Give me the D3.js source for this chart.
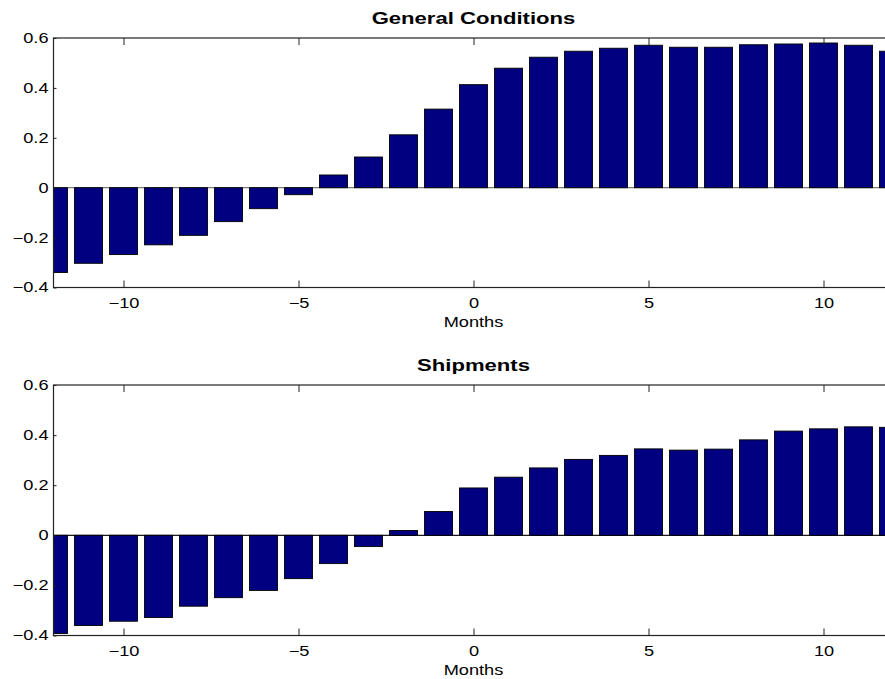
<!DOCTYPE html>
<html>
<head>
<meta charset="utf-8">
<script src="https://cdn.jsdelivr.net/npm/d3@7"></script>
<style>
  body { margin: 0; background: #fff; }
  svg { display: block; font-family: "Liberation Sans", Arial, Helvetica, sans-serif; }
</style>
</head>
<body>
<svg id="chart" width="885" height="679"></svg>
<script>
// ---- data ----
const months = [-12,-11,-10,-9,-8,-7,-6,-5,-4,-3,-2,-1,0,1,2,3,4,5,6,7,8,9,10,11,12];
const generalConditions = [-0.340,-0.303,-0.268,-0.229,-0.191,-0.136,-0.084,-0.028,0.051,0.123,0.212,0.315,
  0.413,0.479,0.523,0.547,0.559,0.571,0.563,0.563,0.573,0.576,0.580,0.571,0.547];
const shipments = [-0.392,-0.360,-0.343,-0.328,-0.283,-0.249,-0.220,-0.173,-0.113,-0.045,0.019,0.095,
  0.189,0.232,0.269,0.303,0.319,0.345,0.340,0.344,0.381,0.416,0.425,0.433,0.431];
const panelTitles = ["General Conditions", "Shipments"];
const xTicks = [-10, -5, 0, 5, 10];
const yTicks = [-0.4, -0.2, 0, 0.2, 0.4, 0.6];
const xLabel = "Months";

// ---- layout ----
const svg = d3.select("#chart");
const left = 53.5, right = 893.5;
const panels = [
  { title: panelTitles[0], values: generalConditions, top: 38, bottom: 287.5, zeroColor: "#7a7a7a" },
  { title: panelTitles[1], values: shipments, top: 385, bottom: 635.5, zeroColor: "#1a1a1a" }
];
const sx = 1.3; // horizontal stretch of the reference text

const x = d3.scaleLinear().domain([-12, 12]).range([left, right]);
const barW = x(0.4) - x(-0.4);

function stretch(sel) {
  sel.each(function() {
    const t = d3.select(this);
    const ax = +t.attr("x") || 0;
    t.attr("transform", `translate(${ax},0) scale(${sx},1) translate(${-ax},0)`);
  });
}

panels.forEach((p, i) => {
  const y = d3.scaleLinear().domain([-0.4, 0.6]).range([p.bottom, p.top]);
  const g = svg.append("g");

  const clipId = "clip" + i;
  svg.append("clipPath").attr("id", clipId)
    .append("rect").attr("x", left).attr("y", p.top).attr("width", right - left).attr("height", p.bottom - p.top);

  const plot = g.append("g").attr("clip-path", `url(#${clipId})`);

  // baseline
  plot.append("line")
    .attr("x1", left).attr("x2", right)
    .attr("y1", y(0)).attr("y2", y(0))
    .attr("stroke", p.zeroColor).attr("stroke-width", 1.3);

  // bars
  plot.selectAll("rect.bar").data(months.map((m, k) => ({ m, v: p.values[k] })))
    .join("rect").attr("class", "bar")
    .attr("x", d => x(d.m) - barW / 2)
    .attr("width", barW)
    .attr("y", d => y(Math.max(0, d.v)))
    .attr("height", d => Math.abs(y(d.v) - y(0)))
    .attr("fill", "#000080")
    .attr("stroke", "#000")
    .attr("stroke-width", 0.9);

  // axes
  const fmtY = d => d === 0 ? "0" : d3.format(".1f")(d);
  const axB = g.append("g").attr("transform", `translate(0,${p.bottom})`)
    .call(d3.axisBottom(x).tickValues(xTicks).tickSize(-7).tickSizeOuter(0).tickPadding(11).tickFormat(d3.format("")));
  const axT = g.append("g").attr("transform", `translate(0,${p.top})`)
    .call(d3.axisTop(x).tickValues(xTicks).tickSize(-7).tickSizeOuter(0).tickFormat(""));
  const axL = g.append("g").attr("transform", `translate(${left},0)`)
    .call(d3.axisLeft(y).tickValues(yTicks).tickSize(-3).tickSizeOuter(0).tickPadding(5).tickFormat(fmtY));

  [axB, axT, axL].forEach(a => {
    a.select(".domain").remove();
    a.selectAll("line").attr("stroke", "#222").attr("stroke-width", 1);
    a.selectAll("text").attr("font-size", 14).attr("fill", "#000")
      .attr("font-family", "'Liberation Sans', Arial, sans-serif");
  });
  stretch(axB.selectAll("text"));
  stretch(axL.selectAll("text"));

  // frame
  g.append("rect").attr("x", left).attr("y", p.top)
    .attr("width", right - left).attr("height", p.bottom - p.top)
    .attr("fill", "none").attr("stroke", "#222").attr("stroke-width", 1.2);

  // title
  const tt = g.append("text")
    .attr("x", (left + right) / 2).attr("y", p.top - 14)
    .attr("text-anchor", "middle").attr("font-size", 17).attr("font-weight", "bold")
    .attr("fill", "#000").text(p.title);
  stretch(tt);

  // x label
  const xl = g.append("text")
    .attr("x", (left + right) / 2).attr("y", p.bottom + 40)
    .attr("text-anchor", "middle").attr("font-size", 14)
    .attr("fill", "#000").text(xLabel);
  stretch(xl);
});
</script>
</body>
</html>
